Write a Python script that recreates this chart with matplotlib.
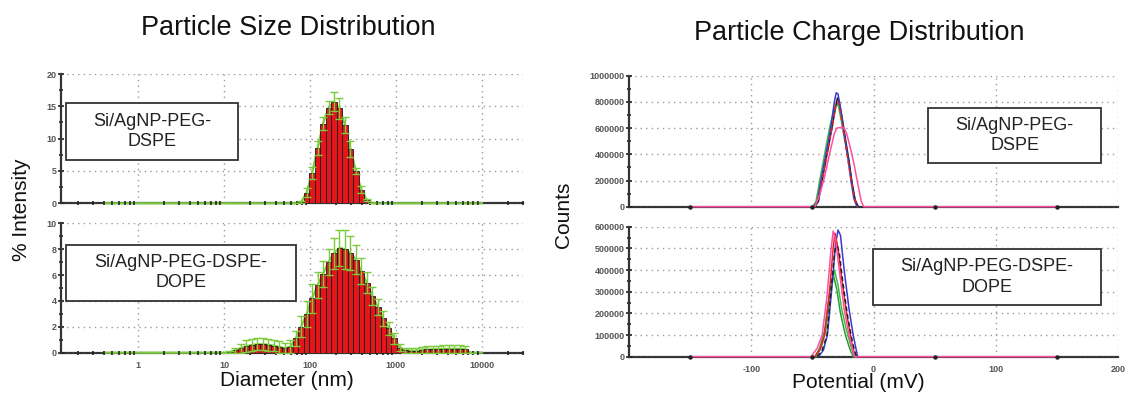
import numpy as np
import matplotlib
matplotlib.use("Agg")
import matplotlib.pyplot as plt
from matplotlib.ticker import MultipleLocator, FixedLocator, NullFormatter, LogLocator

plt.rcParams['font.family'] = ['Liberation Sans', 'DejaVu Sans']

# ---------------- data: size distribution ----------------
size_top = [68.06, 78.82, 91.28, 105.7, 122.4, 141.8, 164.2, 190.1, 220.2, 255.0, 295.3, 342.0, 396.1, 458.7, 531.2]
int_top = [0.0, 0.2, 1.65, 4.7, 8.5, 12.3, 14.8, 15.7, 14.7, 12.1, 8.4, 5.0, 2.1, 0.5, 0.0]
err_top = [0.0, 0.2, 0.7, 0.9, 1.1, 1.0, 1.0, 1.5, 1.6, 1.3, 1.2, 0.5, 0.5, 0.2, 0.0]

size_bot = [10.10, 11.70, 13.54, 15.69, 18.17, 21.04, 24.36, 28.21, 32.67, 37.84, 43.82, 50.75, 58.77,
            68.06, 78.82, 91.28, 105.7, 122.4, 141.8, 164.2, 190.1, 220.2, 255.0, 295.3, 342.0,
            396.1, 458.7, 531.2, 615.1, 712.4, 825.0, 955.4, 1106, 1281, 1484, 1718, 1990, 2305,
            2669, 3091, 3580, 4145, 4801, 5560, 6439, 7456]
int_bot = [0.0, 0.05, 0.2, 0.35, 0.5, 0.6, 0.65, 0.65, 0.62, 0.55, 0.45, 0.35, 0.45,
           1.1, 2.0, 3.0, 4.2, 5.2, 6.1, 7.0, 7.7, 8.1, 8.0, 7.7, 7.2,
           6.3, 5.4, 4.4, 3.55, 2.65, 1.9, 1.1, 0.4, 0.2, 0.15, 0.15, 0.2, 0.25,
           0.25, 0.25, 0.3, 0.3, 0.3, 0.3, 0.25, 0.0]
err_bot = [0.0, 0.05, 0.2, 0.35, 0.45, 0.45, 0.45, 0.45, 0.45, 0.45, 0.45, 0.4, 0.5,
           0.6, 0.8, 1.0, 1.1, 1.0, 1.0, 1.0, 1.2, 1.4, 1.5, 1.3, 1.1,
           1.0, 0.8, 0.7, 0.6, 0.6, 0.5, 0.4, 0.3, 0.2, 0.2, 0.2, 0.25, 0.3,
           0.3, 0.3, 0.3, 0.3, 0.3, 0.3, 0.3, 0.0]
size_range = [0.4, 10000]
size_ticks = [1, 10, 100, 1000, 10000]

# ---------------- data: zeta potential ----------------
# upper panel (Si/AgNP-PEG-DSPE)
z1_blue_x = [-49, -46, -43, -39, -35, -32, -30.5, -29, -27, -24, -21, -18.5, -16, -13.5]
z1_blue_y = [0, 40000, 200000, 400000, 600000, 800000, 870000, 860000, 750000, 560000, 380000, 200000, 60000, 0]
z1_black_x = [-48, -45, -42, -38, -34, -31, -29.5, -28, -26, -23, -20, -17.5, -15, -12.5]
z1_black_y = [0, 40000, 200000, 400000, 600000, 760000, 830000, 800000, 700000, 520000, 350000, 180000, 50000, 0]
z1_green_x = [-50, -47, -44, -40, -36, -32, -30, -28.5, -26, -23, -20, -17.5, -15, -12.5]
z1_green_y = [0, 40000, 200000, 400000, 600000, 760000, 790000, 760000, 640000, 480000, 330000, 170000, 50000, 0]
z1_red_x = [-48, -44, -41, -37, -33, -30.5, -29, -27, -24, -21, -18, -15.5, -13]
z1_red_y = [0, 100000, 250000, 450000, 650000, 790000, 800000, 720000, 540000, 360000, 190000, 60000, 0]
z1_pink_x = [-150, -48, -44, -40, -36, -32, -30, -27, -24, -22, -19, -16, -13, -10, -8, 150]
z1_pink_y = [0, 0, 90000, 230000, 400000, 560000, 600000, 605000, 600000, 560000, 450000, 330000, 180000, 40000, 0, 0]

# lower panel (Si/AgNP-PEG-DSPE-DOPE)
z2_pink_x = [-150, -51, -46, -42, -38, -35, -33, -31, -28, -24, -20, -17, -15.5, 150]
z2_pink_y = [0, 0, 40000, 100000, 280000, 480000, 580000, 540000, 400000, 220000, 100000, 30000, 0, 0]
z2_blue_x = [-45, -41, -37.7, -34, -31, -29, -27, -24, -20, -16.6, -13]
z2_blue_y = [0, 30000, 100000, 320000, 520000, 585000, 560000, 400000, 220000, 100000, 0]
z2_red_x = [-48, -44, -40, -36, -33, -31.5, -29, -26, -22, -18, -15]
z2_red_y = [0, 30000, 100000, 300000, 500000, 570000, 500000, 360000, 200000, 70000, 0]
z2_black_x = [-46, -42, -38, -35, -32, -30.5, -28, -25, -21, -17, -14]
z2_black_y = [0, 30000, 100000, 290000, 470000, 530000, 480000, 340000, 180000, 60000, 0]
z2_green_x = [-47, -43, -39, -35, -32, -29, -26, -22, -18, -15.5]
z2_green_y = [0, 40000, 120000, 300000, 400000, 330000, 220000, 120000, 40000, 0]
z2_dgreen_x = [-48, -44, -40, -36, -33, -30, -27, -23, -19, -16.5]
z2_dgreen_y = [0, 40000, 120000, 290000, 380000, 310000, 200000, 100000, 30000, 0]

W, H = 1127, 396
fig = plt.figure(figsize=(W / 100, H / 100), dpi=100)

def rect(x0, y0, x1, y1):
    return [x0 / W, 1 - y1 / H, (x1 - x0) / W, (y1 - y0) / H]

TICKC = '#555555'
GRIDKW = dict(color='#9a9a9a', linestyle=(0, (1, 3)), linewidth=1.0)
RED = '#e3161b'
GREEN = '#7ccb3c'

def style_axis(ax):
    ax.spines['top'].set_visible(False)
    ax.spines['right'].set_visible(False)
    ax.spines['bottom'].set_visible(False)
    ax.spines['left'].set_color('#333333')
    ax.spines['left'].set_linewidth(1.6)
    ax.tick_params(axis='both', which='both', direction='inout', color='#222222',
                   labelcolor=TICKC, labelsize=6.5, width=1.2)
    ax.tick_params(axis='both', which='major', length=4)
    ax.tick_params(axis='both', which='minor', length=3)
    ax.tick_params(axis='y', pad=1)
    for lab in ax.get_yticklabels() + ax.get_xticklabels():
        lab.set_fontweight('bold')

def add_box(x0, y0, x1, y1, text):
    r = plt.Rectangle((x0 / W, 1 - y1 / H), (x1 - x0) / W, (y1 - y0) / H,
                      transform=fig.transFigure, facecolor='white', edgecolor='#333333',
                      linewidth=1.3, zorder=10)
    fig.add_artist(r)
    fig.text((x0 + x1) / 2 / W, 1 - (y0 + y1) / 2 / H, text, ha='center', va='center',
             fontsize=13, color='#222222', linespacing=1.25, zorder=11)

def size_panel(ax, sizes, vals, errs, ymax, ymajor, yminor, show_xlabels):
    sizes = np.array(sizes, dtype=float)
    ratio = 10 ** (np.log10(10000 / 0.4) / 69)
    left = sizes / np.sqrt(ratio)
    right = sizes * np.sqrt(ratio)
    ax.set_xscale('log')
    ax.set_xlim(10 ** -0.9, 10 ** 4.48)
    ax.set_ylim(0, ymax)
    ax.plot([10 ** -0.9, 10 ** 4.48], [0, 0], color='#333333', lw=1.6, zorder=1, clip_on=False)
    gx = [size_range[0]] + list(sizes) + [size_range[1]]
    gy = [0] + list(vals) + [0]
    ax.plot(gx, gy, color=GREEN, lw=1.6, zorder=1.5, clip_on=False)
    ax.bar(left, vals, width=right - left, align='edge', color=RED, edgecolor='#1a1a1a',
           linewidth=0.6, zorder=2)
    ax.errorbar(sizes, vals, yerr=errs, fmt='none', ecolor=GREEN, elinewidth=1.0,
                capsize=3, capthick=1.0, zorder=3)
    ax.yaxis.set_major_locator(MultipleLocator(ymajor))
    ax.yaxis.set_minor_locator(MultipleLocator(yminor))
    ax.xaxis.set_major_locator(FixedLocator(size_ticks))
    ax.xaxis.set_minor_locator(LogLocator(base=10, subs=np.arange(2, 10)))
    ax.xaxis.set_minor_formatter(NullFormatter())
    ax.set_xticklabels([str(t) for t in size_ticks] if show_xlabels else [])
    ax.grid(True, which='major', axis='both', **GRIDKW)
    style_axis(ax)
    ax.tick_params(axis='x', which='major', length=0, pad=6)

def zeta_panel(ax, series, ymax, ymajor, yminor, show_xlabels):
    ax.set_xlim(-200, 200)
    ax.set_ylim(0, ymax)
    ax.plot([-200, 200], [0, 0], color='#333333', lw=1.6, zorder=1, clip_on=False)
    for xs, ys, c, ls in series:
        ax.plot(xs, ys, color=c, lw=1.1, linestyle=ls, zorder=2, clip_on=False)
    ax.yaxis.set_major_locator(MultipleLocator(ymajor))
    ax.yaxis.set_minor_locator(MultipleLocator(yminor))
    ax.xaxis.set_major_locator(FixedLocator([-100, 0, 100, 200]))
    ax.xaxis.set_minor_locator(FixedLocator([-150, -50, 50, 150]))
    ax.set_xticklabels(['-100', '0', '100', '200'] if show_xlabels else [])
    ax.yaxis.set_major_formatter(matplotlib.ticker.FuncFormatter(lambda v, p: '%d' % v))
    ax.grid(True, which='major', axis='both', **GRIDKW)
    style_axis(ax)
    ax.tick_params(axis='x', which='major', length=0, pad=6)
    ax.tick_params(axis='x', which='minor', length=0)
    ax.plot([-150, -50, 50, 150], [0, 0, 0, 0], 'o', color='#222222', ms=2.2, zorder=3, clip_on=False)

# ---- left panels
axL1 = fig.add_axes(rect(61, 74, 523, 203.3))
size_panel(axL1, size_top, int_top, err_top, 20, 5, 2.5, False)
axL2 = fig.add_axes(rect(61, 223.3, 523, 352.7))
size_panel(axL2, size_bot, int_bot, err_bot, 10, 2, 1, True)

# ---- right panels
PINK = '#ff4fa3'
BLUE = '#3a3ad0'
BLK = '#222222'
GRN = '#3cbf3c'
RD = '#e8202a'
axR1 = fig.add_axes(rect(629, 75.7, 1118, 206.7))
zeta_panel(axR1, [
    (z1_green_x, z1_green_y, GRN, '-'),
    (z1_black_x, z1_black_y, BLK, '-'),
    (z1_blue_x, z1_blue_y, BLUE, '-'),
    (z1_red_x, z1_red_y, RD, (0, (3, 2))),
    (z1_pink_x, z1_pink_y, PINK, '-'),
], 1000000, 200000, 100000, False)
axR2 = fig.add_axes(rect(629, 226.7, 1118, 356.7))
zeta_panel(axR2, [
    (z2_dgreen_x, z2_dgreen_y, '#2e9a3a', '-'),
    (z2_green_x, z2_green_y, GRN, '-'),
    (z2_blue_x, z2_blue_y, BLUE, '-'),
    (z2_red_x, z2_red_y, RD, '-'),
    (z2_black_x, z2_black_y, BLK, (0, (3, 2))),
    (z2_pink_x, z2_pink_y, PINK, '-'),
], 600000, 100000, 50000, True)

# ---- boxes
add_box(66, 102.7, 238, 160, 'Si/AgNP-PEG-\nDSPE')
add_box(66, 245, 295.7, 300.7, 'Si/AgNP-PEG-DSPE-\nDOPE')
add_box(928.3, 107.7, 1101, 163.3, 'Si/AgNP-PEG-\nDSPE')
add_box(873.3, 249, 1101, 305, 'Si/AgNP-PEG-DSPE-\nDOPE')

# ---- titles and axis labels
fig.text(288 / W, 1 - 28 / H, 'Particle Size Distribution', ha='center', va='center', fontsize=19.5, color='#111111')
fig.text(859 / W, 1 - 33 / H, 'Particle Charge Distribution', ha='center', va='center', fontsize=19.5, color='#111111')
fig.text(22 / W, 1 - 210 / H, '% Intensity', ha='center', va='center', rotation=90, fontsize=15, color='#111111')
fig.text(287 / W, 1 - 381 / H, 'Diameter (nm)', ha='center', va='center', fontsize=15, color='#111111')
fig.text(564 / W, 1 - 215 / H, 'Counts', ha='center', va='center', rotation=90, fontsize=15, color='#111111')
fig.text(858 / W, 1 - 383 / H, 'Potential (mV)', ha='center', va='center', fontsize=15, color='#111111')

fig.savefig('out.png', dpi=100)
